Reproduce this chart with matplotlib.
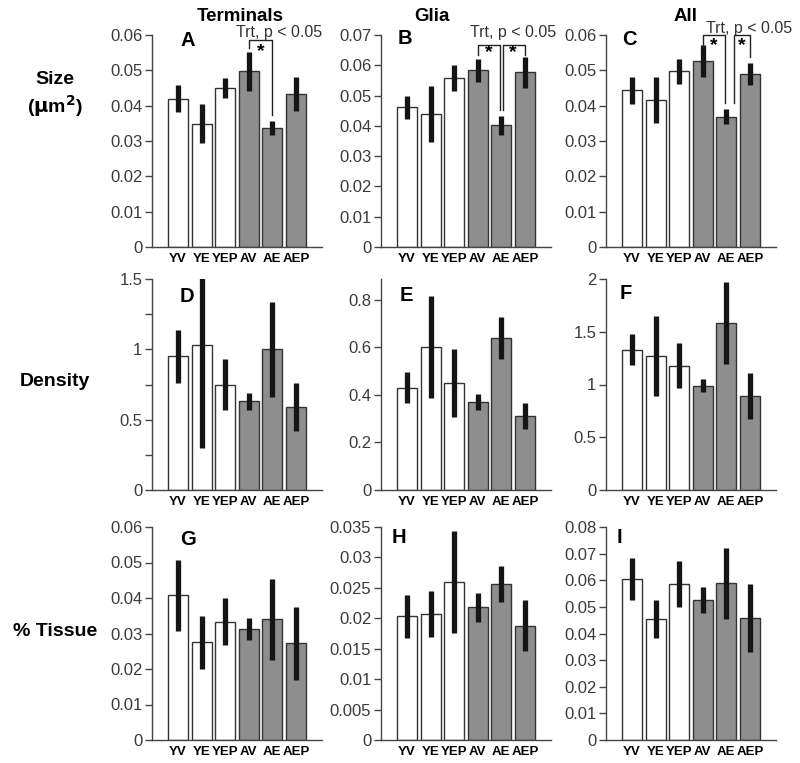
import matplotlib.pyplot as plt
import numpy as np

plt.rcParams['font.family'] = ['Liberation Sans', 'DejaVu Sans']

groups = ['YV', 'YE', 'YEP', 'AV', 'AE', 'AEP']
bar_colors = ['white', 'white', 'white', '#8e8e8e', '#8e8e8e', '#8e8e8e']

# size (um^2)
size_term = [0.0420, 0.0349, 0.0450, 0.0497, 0.0337, 0.0433]
size_term_err = [0.0039, 0.0056, 0.0028, 0.0055, 0.0020, 0.0049]
size_glia = [0.0462, 0.0440, 0.0558, 0.0583, 0.0402, 0.0577]
size_glia_err = [0.0038, 0.0092, 0.0042, 0.0038, 0.0031, 0.0052]
size_all = [0.0443, 0.0416, 0.0497, 0.0526, 0.0369, 0.0490]
size_all_err = [0.0037, 0.0066, 0.0035, 0.0045, 0.0021, 0.0031]

# density
dens_term = [0.95, 1.03, 0.75, 0.63, 1.00, 0.59]
dens_term_err = [0.19, 0.73, 0.18, 0.06, 0.34, 0.17]
dens_glia = [0.43, 0.60, 0.45, 0.37, 0.64, 0.31]
dens_glia_err = [0.065, 0.215, 0.145, 0.035, 0.088, 0.054]
dens_all = [1.33, 1.27, 1.18, 0.99, 1.58, 0.89]
dens_all_err = [0.145, 0.38, 0.21, 0.065, 0.39, 0.215]

# % tissue
tissue_term = [0.0408, 0.0275, 0.0333, 0.0313, 0.0340, 0.0273]
tissue_term_err = [0.0100, 0.0075, 0.0066, 0.0031, 0.0114, 0.0103]
tissue_glia = [0.0203, 0.0207, 0.0260, 0.0218, 0.0256, 0.0188]
tissue_glia_err = [0.0036, 0.0038, 0.0084, 0.0024, 0.0030, 0.0042]
tissue_all = [0.0604, 0.0454, 0.0586, 0.0526, 0.0588, 0.0457]
tissue_all_err = [0.0080, 0.0072, 0.0088, 0.0050, 0.0133, 0.0128]

col_titles = ['Terminals', 'Glia', 'All']
row_labels = ['Size\n($\\mathbf{\\mu}$m$^{\\mathbf{2}}$)', 'Density', '% Tissue']
letters = ['A', 'B', 'C', 'D', 'E', 'F', 'G', 'H', 'I']

panels = [
    (size_term, size_term_err, 0.06, np.arange(0, 0.061, 0.01)),
    (size_glia, size_glia_err, 0.07, np.arange(0, 0.071, 0.01)),
    (size_all, size_all_err, 0.06, np.arange(0, 0.061, 0.01)),
    (dens_term, dens_term_err, 1.5, [0, 0.5, 1, 1.5]),
    (dens_glia, dens_glia_err, 0.8875, [0, 0.2, 0.4, 0.6, 0.8]),
    (dens_all, dens_all_err, 2.0, [0, 0.5, 1, 1.5, 2]),
    (tissue_term, tissue_term_err, 0.06, np.arange(0, 0.061, 0.01)),
    (tissue_glia, tissue_glia_err, 0.035, np.arange(0, 0.0351, 0.005)),
    (tissue_all, tissue_all_err, 0.08, np.arange(0, 0.081, 0.01)),
]

# significance brackets: (panel, x_left, x_right, y_left, y_top, y_right)
brackets = [
    (0, 3, 4, 0.0562, 0.0586, 0.0373),
    (1, 3, 3.95, 0.0635, 0.0667, 0.0454),
    (1, 4.05, 5, 0.0454, 0.0667, 0.0635),
    (2, 3, 3.95, 0.0567, 0.0600, 0.0408),
    (2, 4.3, 5, 0.0408, 0.0600, 0.0539),
]
stars = [(0, 3.5, 0.0553), (1, 3.47, 0.0642), (1, 4.5, 0.0642),
         (2, 3.45, 0.0570), (2, 4.65, 0.0570)]
# baseline positions of the "Trt" notes
trt_pos = [(0, 4.3, 0.0595), (1, 4.5, 0.0693), (2, 4.95, 0.0607)]
letter_pos = [(0.165, 0.975), (0.10, 0.985), (0.095, 0.98),
              (0.165, 0.915), (0.11, 0.92), (0.08, 0.93),
              (0.165, 0.94), (0.06, 0.95), (0.065, 0.95)]

W, H = 800, 763
fig = plt.figure(figsize=(W / 100, H / 100), dpi=100)
lefts = [152, 381, 606]
rows = [(35, 247), (279, 490), (527, 740)]
x = np.arange(len(groups))

axes = []
for i, (vals, errs, ymax, yticks) in enumerate(panels):
    r, c = divmod(i, 3)
    top, bot = rows[r]
    ax = fig.add_axes([lefts[c] / W, 1 - bot / H, 170 / W, (bot - top) / H])
    vals = np.array(vals)
    errs = np.array(errs)
    ax.bar(x, vals, width=0.85, color=bar_colors, edgecolor='#333333', linewidth=1, zorder=2)
    ax.vlines(x, vals - errs, vals + errs, color='#151515', linewidth=3.8, zorder=3)
    ax.set_xlim(-1.1, 6.1)
    ax.set_ylim(0, ymax)
    ax.set_yticks(yticks)
    ax.set_yticklabels(['%g' % t for t in yticks])
    if i == 3:
        ax.set_yticks([0.25, 0.75, 1.25], minor=True)
    ax.set_xticks(x)
    ax.set_xticklabels(groups, fontweight='bold', fontsize=9.5)
    ax.tick_params(axis='x', length=0, pad=4)
    ax.tick_params(axis='y', which='both', length=5, width=1, color='#444444',
                   labelsize=12, labelcolor='#3a3a3a', pad=2)
    for s in ['top', 'right']:
        ax.spines[s].set_visible(False)
    for s in ['left', 'bottom']:
        ax.spines[s].set_color('#444444')
        ax.spines[s].set_linewidth(1)
    ax.text(letter_pos[i][0], letter_pos[i][1], letters[i], transform=ax.transAxes,
            fontsize=14.5, fontweight='bold', va='center', ha='left')
    axes.append(ax)

for p, x0, x1, yl, yt, yr in brackets:
    axes[p].plot([x0, x0, x1, x1], [yl, yt, yt, yr], color='#222222', lw=1, clip_on=False, zorder=4)
for p, sx, sy in stars:
    axes[p].text(sx, sy, '*', fontsize=14, fontweight='bold', ha='center', va='center')
for p, tx, ty in trt_pos:
    axes[p].text(tx, ty, 'Trt, p < 0.05', fontsize=11.5, color='#333333', ha='center',
                 va='baseline', clip_on=False)

for c, t in enumerate(col_titles):
    cx = [240, 432, 686][c]
    fig.text(cx / W, 1 - 21 / H, t, fontsize=13.5, fontweight='bold', ha='center', va='baseline')

for r, lab in enumerate(row_labels):
    cy = [95, 382, 632][r]
    fig.text(55 / W, 1 - cy / H, lab, fontsize=14, fontweight='bold', ha='center',
             va='center', linespacing=1.25)

fig.savefig('out.png', dpi=100)
